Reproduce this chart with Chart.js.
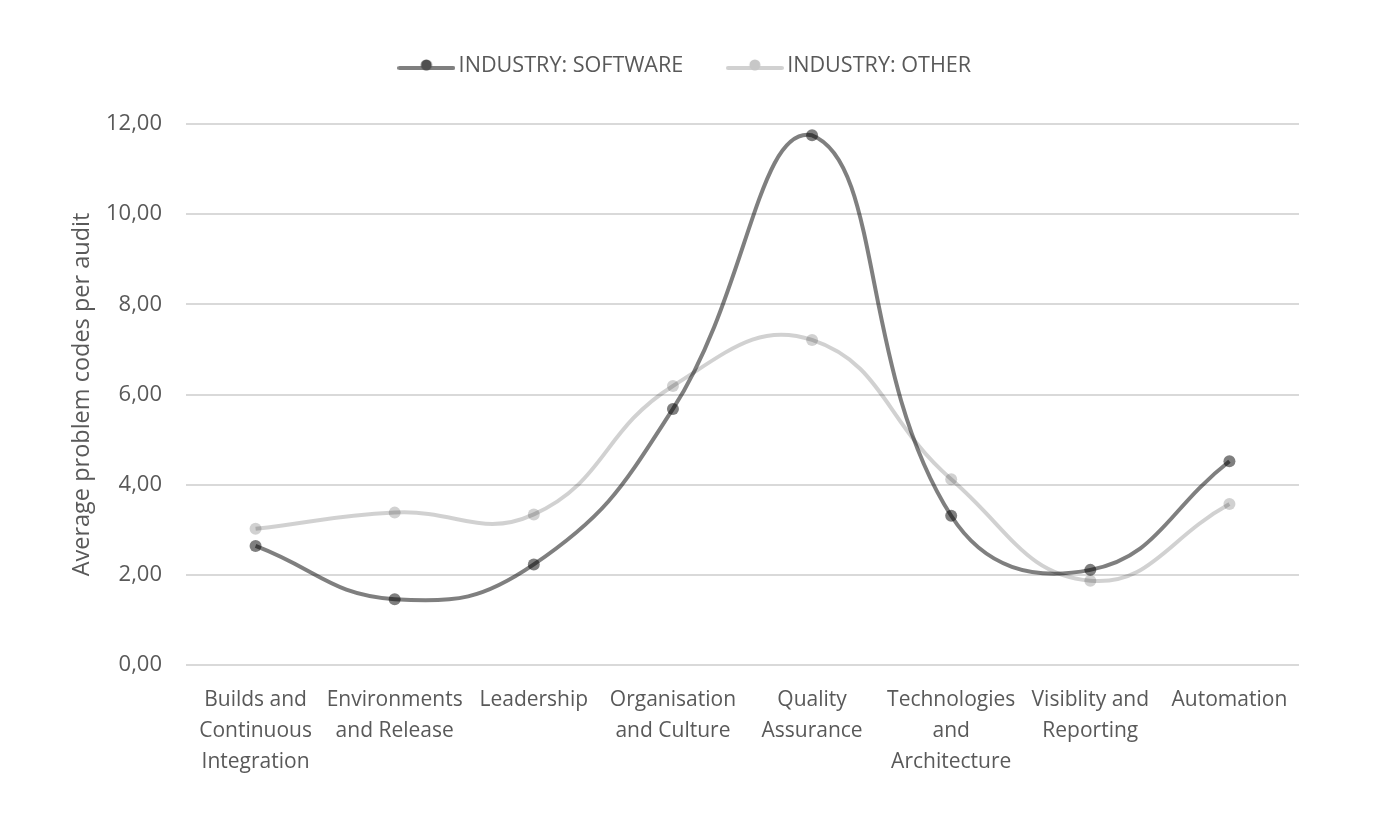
<!DOCTYPE html>
<html>
<head>
<meta charset="utf-8">
<script src="https://cdn.jsdelivr.net/npm/chart.js@4/dist/chart.umd.min.js"></script>
<style>
html,body{margin:0;padding:0;background:#fff;}
#wrap{width:1379px;height:823px;}
</style>
</head>
<body>
<div id="wrap"><canvas id="c" width="1379" height="823"></canvas></div>
<script>
const categories = [
  ["Builds and","Continuous","Integration"],
  ["Environments","and Release"],
  ["Leadership"],
  ["Organisation","and Culture"],
  ["Quality","Assurance"],
  ["Technologies","and","Architecture"],
  ["Visiblity and","Reporting"],
  ["Automation"]
];
const softwareValues = [2.64, 1.46, 2.23, 5.68, 11.75, 3.31, 2.11, 4.52];
const otherValues    = [3.02, 3.38, 3.34, 6.19, 7.21, 4.12, 1.87, 3.57];
const seriesNames = ["INDUSTRY: SOFTWARE", "INDUSTRY: OTHER"];
const yTicks = [0, 2, 4, 6, 8, 10, 12];

const FONT = "'Open Sans', Lato, sans-serif";
const TEXT = "#595959";

function legendIcon(lineColor, dotColor) {
  const cv = document.createElement('canvas');
  cv.width = 58; cv.height = 14;
  const g = cv.getContext('2d');
  g.strokeStyle = lineColor; g.lineWidth = 4; g.lineCap = 'round';
  g.beginPath(); g.moveTo(2, 9); g.lineTo(56, 9); g.stroke();
  g.fillStyle = dotColor;
  g.beginPath(); g.arc(29, 6, 5.5, 0, Math.PI * 2); g.fill();
  return cv;
}

const swLine = 'rgba(0,0,0,0.5)';
const otLine = 'rgba(0,0,0,0.18)';

const legendGap = {
  id: 'legendGap',
  beforeLayout(chart) {
    const lg = chart.legend;
    if (lg && !lg._gapPatched) {
      const orig = lg.fit;
      lg.fit = function () { orig.call(this); this.height += 37.2; };
      lg._gapPatched = true;
    }
  },
  afterLayout(chart) {
    const lg = chart.legend;
    if (lg) { lg.left += 5.5; lg.right += 5.5; }
  }
};

new Chart(document.getElementById('c'), {
  type: 'line',
  data: {
    labels: categories,
    datasets: [
      {
        label: seriesNames[0],
        data: softwareValues,
        borderColor: swLine,
        backgroundColor: swLine,
        pointBackgroundColor: swLine,
        pointBorderWidth: 0,
        pointRadius: 6,
        borderWidth: 4,
        tension: 0.45,
        fill: false,
        order: 2
      },
      {
        label: seriesNames[1],
        data: otherValues,
        borderColor: otLine,
        backgroundColor: otLine,
        pointBackgroundColor: otLine,
        pointBorderWidth: 0,
        pointRadius: 6,
        borderWidth: 4,
        tension: 0.45,
        fill: false,
        order: 1
      }
    ]
  },
  plugins: [legendGap],
  options: {
    responsive: false,
    animation: false,
    layout: { padding: { top: 5.2, left: 66, right: 80, bottom: 10 } },
    plugins: {
      legend: {
        position: 'top',
        labels: {
          usePointStyle: true,
          pointStyleWidth: 43,
          boxHeight: 14,
          padding: 50,
          color: TEXT,
          font: { family: FONT, size: 21.6 },
          generateLabels: (chart) => [
            { text: seriesNames[0], pointStyle: legendIcon('#7f7f7f', '#4f4f4f'), fillStyle: swLine, strokeStyle: swLine, lineWidth: 0, datasetIndex: 0, fontColor: TEXT },
            { text: seriesNames[1], pointStyle: legendIcon('#d1d1d1', '#c7c7c7'), fillStyle: otLine, strokeStyle: otLine, lineWidth: 0, datasetIndex: 1, fontColor: TEXT }
          ]
        }
      },
      tooltip: { enabled: false }
    },
    scales: {
      x: {
        offset: true,
        grid: { display: false, drawTicks: false },
        border: { display: false },
        ticks: {
          autoSkip: false, maxRotation: 0, minRotation: 0,
          padding: 19, color: TEXT,
          font: { family: FONT, size: 21, lineHeight: 1.48 }
        },
        afterFit: (s) => { s.height = 823 - 665 - 10; }
      },
      y: {
        min: 0, max: 12,
        afterBuildTicks: (s) => { s.ticks = yTicks.map(v => ({ value: v })); },
        grid: { color: '#d9d9d9', lineWidth: 2, drawTicks: false },
        border: { display: false },
        ticks: {
          padding: 24, color: TEXT,
          font: { family: FONT, size: 22 },
          callback: (v) => Number(v).toFixed(2).replace('.', ',')
        },
        title: {
          display: true,
          text: 'Average problem codes per audit',
          color: TEXT,
          font: { family: FONT, size: 23.5 },
          padding: { top: 2, bottom: 4 }
        },
        afterFit: (s) => { s.width = 186 - 66; }
      }
    }
  }
});
</script>
</body>
</html>
